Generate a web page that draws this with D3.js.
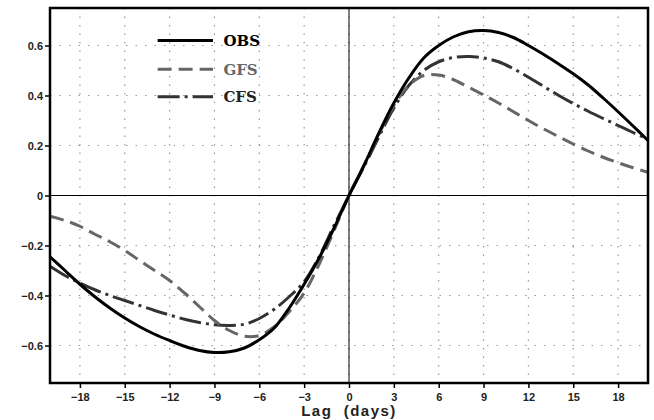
<!DOCTYPE html>
<html><head><meta charset="utf-8">
<script src="https://cdn.jsdelivr.net/npm/d3@7"></script>
<style>body{margin:0;background:#fff}</style>
</head><body>
<svg id="c" width="654" height="420"></svg>
<script>
const lags = d3.range(-20, 21);
const obs = [-0.245,-0.30,-0.355,-0.405,-0.45,-0.49,-0.525,-0.555,-0.58,-0.603,-0.62,-0.628,-0.625,-0.61,-0.577,-0.53,-0.45,-0.355,-0.25,-0.13,0,
  0.12,0.25,0.37,0.47,0.55,0.60,0.635,0.655,0.66,0.652,0.632,0.60,0.565,0.527,0.487,0.442,0.39,0.335,0.278,0.22];
const gfs = [-0.083,-0.10,-0.123,-0.155,-0.185,-0.22,-0.26,-0.30,-0.34,-0.39,-0.445,-0.50,-0.54,-0.563,-0.56,-0.525,-0.465,-0.39,-0.275,-0.14,0,
  0.12,0.245,0.36,0.44,0.48,0.482,0.463,0.433,0.402,0.37,0.335,0.30,0.267,0.236,0.206,0.178,0.153,0.131,0.111,0.093];
const cfs = [-0.283,-0.32,-0.35,-0.377,-0.40,-0.42,-0.44,-0.46,-0.478,-0.495,-0.508,-0.517,-0.52,-0.515,-0.492,-0.455,-0.405,-0.345,-0.245,-0.12,0,
  0.115,0.235,0.35,0.44,0.50,0.535,0.552,0.556,0.55,0.535,0.507,0.473,0.437,0.401,0.368,0.337,0.308,0.28,0.252,0.225];
const xTicks = [-18,-15,-12,-9,-6,-3,0,3,6,9,12,15,18];
const yTicks = [-0.6,-0.4,-0.2,0,0.2,0.4,0.6];
const seriesNames = ["OBS","GFS","CFS"];

const svg = d3.select("#c");
const L=50, R=648, T=8, B=383;
const x = d3.scaleLinear().domain([-20,20]).range([L,R]);
const y = d3.scaleLinear().domain([-0.75,0.75]).range([B,T]);

// grid
const g = svg.append("g");
g.selectAll(".gx").data(xTicks).join("line")
  .attr("x1",d=>x(d)).attr("x2",d=>x(d)).attr("y1",T).attr("y2",B)
  .attr("stroke","#999").attr("stroke-width",1.2).attr("stroke-dasharray","1.5,7");
g.selectAll(".gy").data(yTicks).join("line")
  .attr("x1",L).attr("x2",R).attr("y1",d=>y(d)).attr("y2",d=>y(d))
  .attr("stroke","#999").attr("stroke-width",1.2).attr("stroke-dasharray","1.5,8");
// zero lines
svg.append("line").attr("x1",x(0)).attr("x2",x(0)).attr("y1",T).attr("y2",B).attr("stroke","#000").attr("stroke-width",1);
svg.append("line").attr("x1",L).attr("x2",R).attr("y1",y(0)).attr("y2",y(0)).attr("stroke","#000").attr("stroke-width",1);

const styles = {
  OBS:{color:"#000", dash:null, data:obs, text:"#000"},
  GFS:{color:"#666", dash:"14,7", data:gfs, text:"#666"},
  CFS:{color:"#333", dash:"22,5,3,5", data:cfs, text:"#222"}
};
const line = d3.line().x((d,i)=>x(lags[i])).y(d=>y(d)).curve(d3.curveCatmullRom.alpha(0.5));
svg.append("defs").append("clipPath").attr("id","clip").append("rect")
  .attr("x",L).attr("y",T).attr("width",R-L).attr("height",B-T);
["CFS","GFS","OBS"].forEach(n=>{
  const s=styles[n];
  svg.append("path").attr("d",line(s.data)).attr("fill","none")
    .attr("stroke",s.color).attr("stroke-width",3)
    .attr("stroke-dasharray",s.dash).attr("clip-path","url(#clip)");
});

// axes
const fmtY = d => d===0 ? "0" : d3.format(".1f")(d).replace("-","\u2212");
const fmtX = d => String(d).replace("-","\u2212");
const ax = svg.append("g").attr("transform",`translate(0,${B})`)
  .call(d3.axisBottom(x).tickValues(xTicks).tickSize(5).tickFormat(fmtX));
const ay = svg.append("g").attr("transform",`translate(${L},0)`)
  .call(d3.axisLeft(y).tickValues(yTicks).tickSize(5).tickFormat(fmtY));
[ax,ay].forEach(a=>{
  a.select(".domain").remove();
  a.selectAll("line").attr("stroke","#000").attr("stroke-width",1.5);
  a.selectAll("text").attr("font-family","Liberation Sans, Arial, sans-serif")
    .attr("font-weight","bold").attr("font-size",11).attr("fill","#222");
});
ax.selectAll("text").attr("dy","0.9em");
ay.selectAll("text").attr("x",-7);

// frame
svg.append("rect").attr("x",L).attr("y",T).attr("width",R-L).attr("height",B-T)
  .attr("fill","none").attr("stroke","#000").attr("stroke-width",2.5);

// x title
svg.append("text").attr("x",x(0)).attr("y",416).attr("text-anchor","middle")
  .attr("font-family","Liberation Sans, Arial, sans-serif").attr("font-weight","bold")
  .attr("font-size",15).attr("letter-spacing",1.5).attr("fill","#222").attr("xml:space","preserve")
  .text("Lag  (days)");

// legend
const legY = {OBS:0.62, GFS:0.505, CFS:0.395};
seriesNames.forEach(n=>{
  const s=styles[n];
  const yy=y(legY[n]);
  svg.append("line").attr("x1",x(-12.8)).attr("x2",x(-9.1)).attr("y1",yy).attr("y2",yy)
    .attr("stroke",s.color).attr("stroke-width",3).attr("stroke-dasharray",s.dash);
  svg.append("text").attr("x",x(-8.4)).attr("y",yy).attr("dy","0.36em")
    .attr("font-family","DejaVu Serif, serif").attr("font-weight","bold")
    .attr("font-size",15).attr("fill",s.text).text(n);
});
</script>
</body></html>
